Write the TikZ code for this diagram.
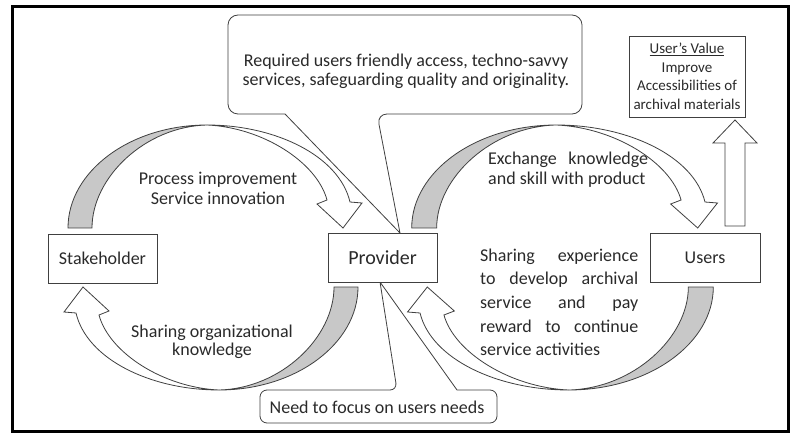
\documentclass[tikz,border=0pt]{standalone}
\usepackage{fontspec}
\setmainfont{Carlito}
\definecolor{ink}{HTML}{404040}
\definecolor{txt}{HTML}{2A2A2A}
\definecolor{band}{HTML}{C8C8C8}
\tikzset{
  inkline/.style={draw=ink, line width=0.8pt},
  lbl/.style={inkline, fill=white, minimum width=109pt, minimum height=49pt, inner sep=0pt, text=txt, font=\fontsize{18}{20}\selectfont},
  txtnode/.style={inner sep=0pt, text=txt},
  curvarr/.pic={
    \path[inkline, fill=band] (-145,-29.5) .. controls (-145,-86) and (-83,-132.5) .. (-6,-132.5) .. controls (-68,-131) and (-121,-80) .. (-121,-29.5) -- cycle;
    \path[inkline, fill=white] (-6,-132.5) .. controls (62,-132.5) and (126,-102) .. (137,-55.5) -- (149,-54.5) -- (130,-29.5) -- (104,-53.5) -- (114,-57.5) .. controls (104,-95) and (50,-130) .. (-6,-132.5) -- cycle;
  }
}
\begin{document}
\begin{tikzpicture}[x=1pt,y=-1pt]
\useasboundingbox (0,0) rectangle (791,435);
\fill[white] (0,0) rectangle (791,435);
\draw[line width=3pt] (12,7) rectangle (788,431);

% callout tips
\coordinate (tiptop) at (400,233);
\coordinate (tipbot) at (380,282);

% callout backgrounds
\fill[white] (285,114) [rounded corners=10] -- (228,114) -- (228,15) -- (582,15) -- (582,114) -- (377,114) [sharp corners] -- (tiptop) -- cycle;
\fill[white] (457,390) [rounded corners=7] -- (497,390) -- (497,423) -- (260,423) -- (260,390) -- (397,390) [sharp corners] -- (tipbot) -- cycle;

% curved block arrows
\pic at (213,257.5) {curvarr};
\pic[xscale=1.04] at (562.5,257.5) {curvarr};
\pic[rotate=180] at (213,257.5) {curvarr};
\pic[rotate=180,xscale=1.04] at (562.5,257.5) {curvarr};

% callout outlines
\draw[inkline] (285,114) [rounded corners=10] -- (228,114) -- (228,15) -- (582,15) -- (582,114) -- (377,114) [sharp corners] -- (tiptop) -- cycle;
\draw[inkline] (457,390) [rounded corners=7] -- (497,390) -- (497,423) -- (260,423) -- (260,390) -- (397,390) [sharp corners] -- (tipbot) -- cycle;

% boxes
\node[lbl] (stake) at (102.5,258.5) {Stakeholder};
\node[lbl, font=\fontsize{20}{22}\selectfont] (prov) at (382.5,257.5) {Provider};
\node[lbl, minimum width=110pt] (users) at (705,257.5) {Users};
\node[lbl, font=\fontsize{15}{18.5}\selectfont, minimum width=116pt, minimum height=81pt, align=center] (uval) at (687,76.5) {\underline{User’s Value}\\Improve\\Accessibilities of\\archival materials};

% callout texts (anchor = baseline of last line)
\node[txtnode, anchor=base, align=center, font=\fontsize{18}{19}\selectfont] (req) at (406,86) {Required users friendly access, techno-savvy\\services, safeguarding quality and originality.};
\node[txtnode, anchor=base, font=\fontsize{18}{20}\selectfont] (need) at (377,413) {Need to focus on users needs};

% up block arrow
\draw[inkline, fill=white] (725,226) -- (725,143) -- (713,143) -- (735,120) -- (757,143) -- (745,143) -- (745,226) -- cycle;

% texts (anchor = baseline of last line)
\node[txtnode, anchor=base, align=center, font=\fontsize{18}{20}\selectfont] (proc) at (218,205) {Process improvement\\Service innovation};
\node[txtnode, anchor=base, align=center, font=\fontsize{18}{18.5}\selectfont] (sorg) at (212,355.5) {Sharing organizational\\knowledge};
\node[txtnode, anchor=base west, align=left, font=\fontsize{18}{20}\selectfont] (exch) at (488,185) {\makebox[160pt][s]{Exchange knowledge}\\and skill with product};
\node[txtnode, anchor=base west, align=left, font=\fontsize{18}{23.7}\selectfont] (sexp) at (480,355.8) {\makebox[158pt][s]{Sharing experience}\\\makebox[158pt][s]{to develop archival}\\\makebox[158pt][s]{service and pay}\\\makebox[158pt][s]{reward to continue}\\service activities};
\end{tikzpicture}
\end{document}
